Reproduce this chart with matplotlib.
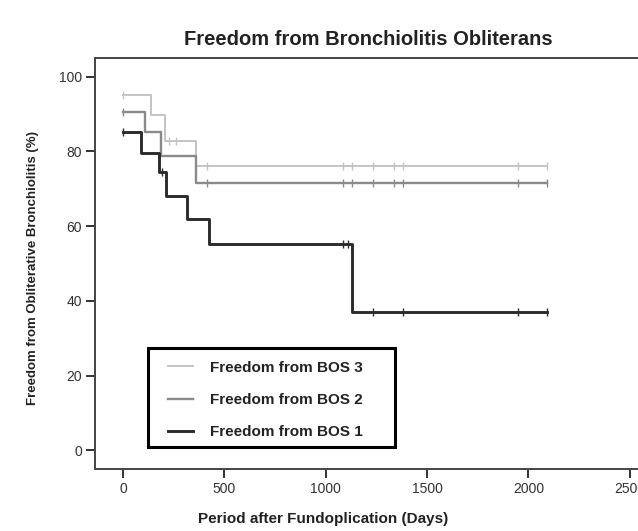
import matplotlib
matplotlib.use("Agg")
import matplotlib.pyplot as plt
from matplotlib.patches import Rectangle

plt.rcParams['font.family'] = ['Liberation Sans', 'DejaVu Sans']

# Kaplan-Meier step data (days, % free)
bos1_t = [0, 90, 178, 212, 316, 426, 1128, 2093]
bos1_v = [85.1, 79.7, 74.5, 68.1, 61.9, 55.2, 37.0, 37.0]
bos1_cens_t = [0, 190, 1087, 1110, 1232, 1383, 1951, 2093]

bos2_t = [0, 106, 188, 360, 2093]
bos2_v = [90.5, 85.1, 78.7, 71.6, 71.6]
bos2_cens_t = [0, 413, 1087, 1129, 1232, 1337, 1383, 1951, 2093]

bos3_t = [0, 136, 207, 360, 2093]
bos3_v = [95.0, 89.8, 82.8, 76.1, 76.1]
bos3_cens_t = [0, 225, 262, 413, 1087, 1129, 1232, 1337, 1383, 1951, 2093]

x_ticks = [0, 500, 1000, 1500, 2000, 2500]
y_ticks = [0, 20, 40, 60, 80, 100]


def value_at(t, times, vals):
    v = vals[0]
    for tt, vv in zip(times, vals):
        if t >= tt:
            v = vv
    return v


fig = plt.figure(figsize=(6.38, 5.31), dpi=100)
ax = fig.add_axes([0.149, 0.1168, 0.856, 0.774])

series = [
    ("Freedom from BOS 3", bos3_t, bos3_v, bos3_cens_t, "#c4c4c4", 1.4),
    ("Freedom from BOS 2", bos2_t, bos2_v, bos2_cens_t, "#8a8a8a", 1.7),
    ("Freedom from BOS 1", bos1_t, bos1_v, bos1_cens_t, "#2b2b2b", 2.1),
]
for label, t, v, ct, col, lw in series:
    ax.step(t, v, where='post', color=col, lw=lw, label=label)
    cv = [value_at(c, t, v) for c in ct]
    ax.plot(ct, cv, ls='none', marker='|', ms=6, mew=1.0, color=col)

ax.set_xlim(-138, 2557)
ax.set_ylim(-5, 105)
ax.set_xticks(x_ticks)
ax.set_yticks(y_ticks)
ax.tick_params(direction='out', length=6.5, width=1.4, colors='#333333',
               labelsize=10, pad=3)
for s in ax.spines.values():
    s.set_color('#444444')
    s.set_linewidth(1.4)

ax.set_title("Freedom from Bronchiolitis Obliterans", fontsize=14.5,
             fontweight='bold', color='#222222', pad=9)
ax.set_xlabel("Period after Fundoplication (Days)", fontsize=11,
              fontweight='bold', color='#222222')
ax.xaxis.set_label_coords(0.418, -0.105)
ax.set_ylabel("Freedom from Obliterative Bronchiolitis (%)", fontsize=9.5,
              fontweight='bold', color='#222222')
ax.yaxis.set_label_coords(-0.1026, 0.489)

# legend without its own frame, boxed by a separate rectangle
leg = ax.legend(loc='upper left', bbox_to_anchor=(0.1337, 0.2635),
                borderaxespad=0, borderpad=0, frameon=False,
                prop={'size': 11, 'weight': 'bold'},
                handlelength=1.65, handletextpad=1.1, labelspacing=1.2)
for txt in leg.get_texts():
    txt.set_color('#222222')
ax.add_patch(Rectangle((0.0971, 0.0535), 0.4524, 0.2409,
                       transform=ax.transAxes, fill=False,
                       edgecolor='black', lw=2.2, zorder=5))

fig.savefig("out.png", dpi=100)
